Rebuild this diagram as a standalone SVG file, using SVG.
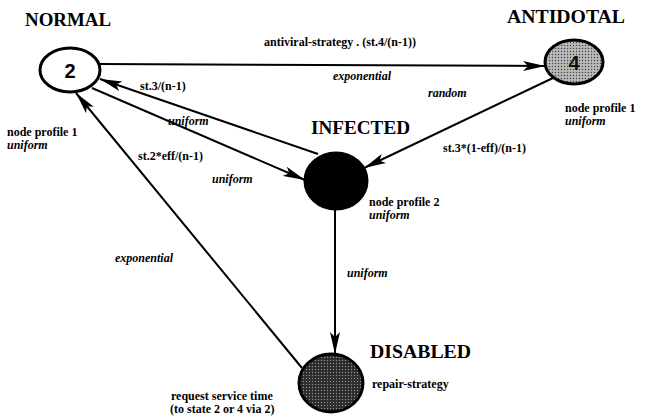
<svg xmlns="http://www.w3.org/2000/svg" width="647" height="417" viewBox="0 0 647 417">
<defs>
<style>
.t{font-family:"Liberation Serif","Times New Roman",serif;font-weight:bold;font-size:12px;fill:#000}
.i{font-family:"Liberation Serif","Times New Roman",serif;font-weight:bold;font-style:italic;font-size:12px;fill:#000}
.h{font-family:"Liberation Serif","Times New Roman",serif;font-weight:bold;font-size:18px;fill:#000}
.n{font-family:"Liberation Sans",Arial,sans-serif;font-weight:bold;font-size:20px;text-anchor:middle}
.e{stroke:#000;stroke-width:2;fill:none}
.c{stroke:#000;stroke-width:3}
</style>
<marker id="ah" markerUnits="userSpaceOnUse" markerWidth="24" markerHeight="12" refX="22" refY="6" orient="auto">
<path d="M0,1 L22,6 L0,11 L5,6 z" fill="#000"/>
</marker>
<pattern id="lite" width="3" height="3" patternUnits="userSpaceOnUse">
<rect width="3" height="3" fill="#aaaaaa"/>
<rect x="0" y="0" width="1" height="1" fill="#444"/>
<rect x="1.5" y="1.5" width="1" height="1" fill="#e6e6e6"/>
</pattern>
<pattern id="dark" width="3" height="3" patternUnits="userSpaceOnUse">
<rect width="3" height="3" fill="#333"/>
<rect x="0" y="0" width="1" height="1" fill="#999"/>
<rect x="1.5" y="1.5" width="1" height="1" fill="#111"/>
</pattern>
</defs>
<rect width="647" height="417" fill="#fff"/>
<g id="connectors">
<line class="e" x1="100" y1="64" x2="545" y2="66" marker-end="url(#ah)"/>
<line class="e" x1="318" y1="154" x2="100" y2="79" marker-end="url(#ah)"/>
<line class="e" x1="92" y1="88" x2="305" y2="180" marker-end="url(#ah)"/>
<line class="e" x1="302" y1="368" x2="76" y2="93" marker-end="url(#ah)"/>
<line class="e" x1="553" y1="78" x2="364" y2="168" marker-end="url(#ah)"/>
<line class="e" x1="335" y1="209" x2="335" y2="354" marker-end="url(#ah)"/>
<text class="t" x="140" y="90">st.3/(n-1)</text>
<text class="i" x="168" y="125">uniform</text>
<text class="t" x="264" y="46">antiviral-strategy . (st.4/(n-1))</text>
<text class="i" x="333" y="80">exponential</text>
<text class="i" x="428" y="97">random</text>
<text class="t" x="138" y="160">st.2*eff/(n-1)</text>
<text class="i" x="212" y="183">uniform</text>
<text class="t" x="443" y="152">st.3*(1-eff)/(n-1)</text>
<text class="i" x="115" y="262">exponential</text>
<text class="i" x="347" y="277">uniform</text>
</g>
<g id="normal">
<ellipse class="c" cx="70" cy="70" rx="30" ry="22" fill="#fff"/>
<text class="n" x="70" y="78">2</text>
<text class="h" x="25" y="26" textLength="86" lengthAdjust="spacingAndGlyphs">NORMAL</text>
<text class="t" x="7" y="136">node profile 1</text>
<text class="i" x="7" y="149">uniform</text>
</g>
<g id="antidotal">
<ellipse class="c" cx="574" cy="62" rx="29" ry="22" fill="url(#lite)"/>
<text class="n" x="574" y="70" fill="#111">4</text>
<text class="h" x="507" y="23" textLength="118" lengthAdjust="spacingAndGlyphs">ANTIDOTAL</text>
<text class="t" x="565" y="112">node profile 1</text>
<text class="i" x="565" y="125">uniform</text>
</g>
<g id="infected">
<ellipse class="c" cx="336" cy="181" rx="31" ry="28" fill="#000"/>
<text class="h" x="311" y="134" textLength="99" lengthAdjust="spacingAndGlyphs">INFECTED</text>
<text class="t" x="369" y="206">node profile 2</text>
<text class="i" x="369" y="219">uniform</text>
</g>
<g id="disabled">
<ellipse class="c" cx="331" cy="383" rx="32" ry="29" fill="url(#dark)"/>
<text class="h" x="370" y="358" textLength="101" lengthAdjust="spacingAndGlyphs">DISABLED</text>
<text class="t" x="372" y="388">repair-strategy</text>
<text class="t" x="171" y="400">request service time</text>
<text class="t" x="170" y="413">(to state 2 or 4 via 2)</text>
</g>
</svg>
